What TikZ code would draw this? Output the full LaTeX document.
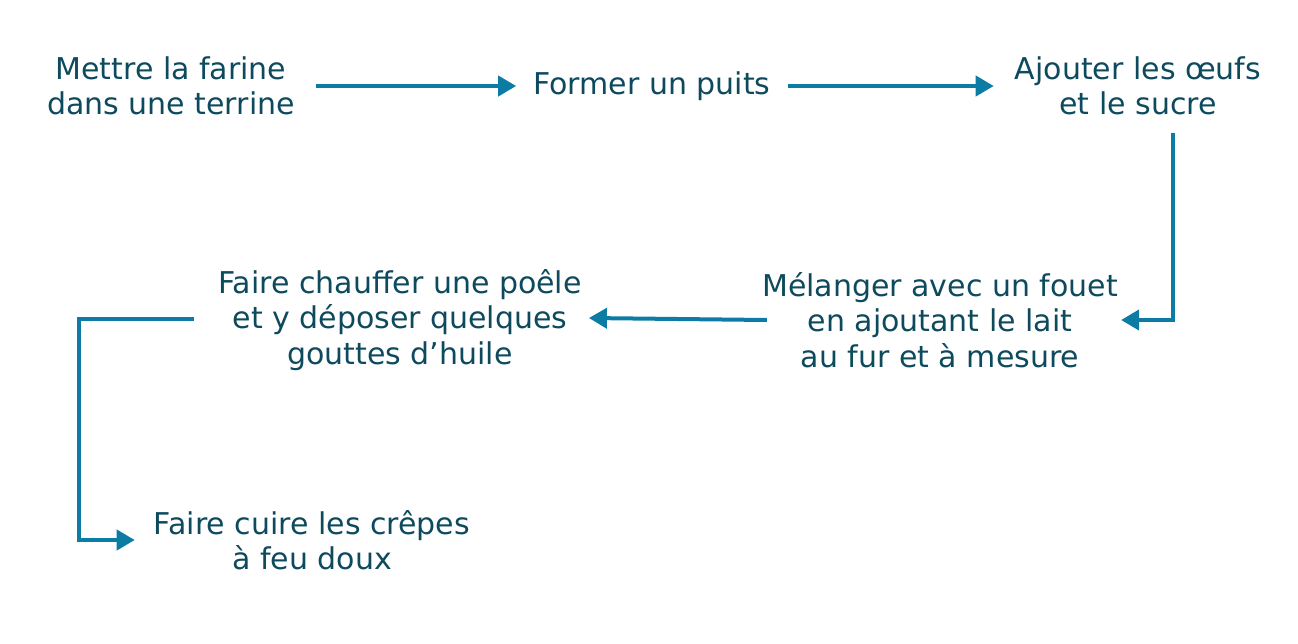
\documentclass[tikz,border=0pt]{standalone}
\usepackage{fontspec}
\setmainfont{DejaVu Sans}
\usetikzlibrary{arrows.meta}
\definecolor{txt}{HTML}{0E4A5E}
\definecolor{arrc}{HTML}{0B7DA4}
\begin{document}
\begin{tikzpicture}[x=1pt,y=-1pt,
  lbl/.style={inner sep=0pt, align=center, text=txt, font=\fontsize{30}{35.5}\selectfont},
  arr/.style={draw=arrc, line width=4pt, -{Triangle[length=18pt,width=20pt]}}]
\useasboundingbox (0,0) rectangle (1298,643);
\node[lbl] (n1) at (171,86) {Mettre la farine\\dans une terrine};
\node[lbl] (n2) at (652,86) {Former un puits};
\node[lbl] (n3) at (1138,86) {Ajouter les œufs\\et le sucre};
\node[lbl] (n4) at (940,320) {Mélanger avec un fouet\\en ajoutant le lait\\au fur et à mesure};
\node[lbl] (n5) at (400,320) {Faire chauffer une poêle\\et y déposer quelques\\gouttes d’huile};
\node[lbl] (n6) at (312,540) {Faire cuire les crêpes\\à feu doux};
\coordinate (k1) at (1173,320);
\coordinate (k2) at (79,319);
\coordinate (k3) at (79,540);
\draw[arr, shorten <=21pt, shorten >=17pt] (n1.east) -- (n2.west);
\draw[arr, shorten <=17pt, shorten >=21pt] (n2.east) -- (n3.west);
\draw[arr, shorten <=17pt] (k1 |- n3.south) -- (k1) -- ([xshift=3pt]n4.east);
\draw[arr] ([xshift=5pt]n4.west) -- ([xshift=7pt,yshift=2pt]n5.east);
\draw[arr] ([xshift=-24pt,yshift=1pt]n5.west) -- (k2) -- (k3) -- ([xshift=-19pt]n6.west);
\end{tikzpicture}
\end{document}
